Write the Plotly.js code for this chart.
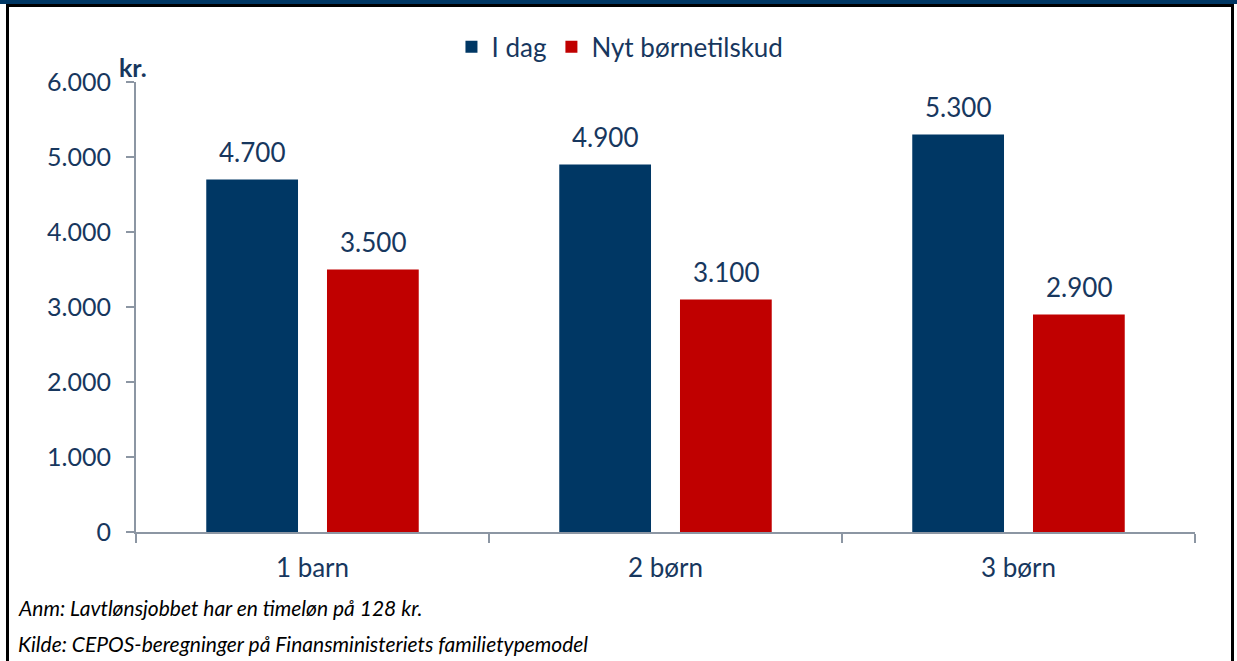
<!DOCTYPE html>
<html>
<head>
<meta charset="utf-8">
<script src="https://cdn.plot.ly/plotly-3.0.1.min.js"></script>
<style>
  body { margin: 0; background: #fff; }
  #wrap { position: relative; width: 1237px; height: 661px; overflow: hidden; }
  #chart { position: absolute; left: 0; top: 0; width: 1237px; height: 661px; }
  .topband { position: absolute; left: 0; top: 0; width: 1237px; height: 4px; background: #003764; }
  .bt { position: absolute; left: 6px; top: 4px; width: 1226px; height: 3px; background: #000; }
  .bl { position: absolute; left: 6px; top: 4px; width: 3px; height: 657px; background: #000; }
  .br { position: absolute; left: 1231px; top: 4px; width: 3px; height: 657px; background: #000; }
</style>
</head>
<body>
<div id="wrap">
  <div id="chart"></div>
  <div class="topband"></div>
  <div class="bt"></div>
  <div class="bl"></div>
  <div class="br"></div>
</div>
<script>
var categories = ['1 barn', '2 børn', '3 børn'];
var iDag = [4700, 4900, 5300];
var nytTilskud = [3500, 3100, 2900];
var yTicks = [0, 1000, 2000, 3000, 4000, 5000, 6000];

var txtColor = '#17375e';
var axisColor = '#8c96a3';

var data = [{
    x: categories,
    y: iDag,
    name: 'I dag',
    type: 'bar',
    marker: { color: '#003764' },
    hoverinfo: 'none'
}, {
    x: categories,
    y: nytTilskud,
    name: 'Nyt børnetilskud',
    type: 'bar',
    marker: { color: '#c00000' },
    hoverinfo: 'none'
}];

// value labels above bars (thousands separated with '.')
function fmt(v) {
    return v.toLocaleString('da-DK');
}
var labels = [];
[iDag, nytTilskud].forEach(function(series, s) {
    series.forEach(function(v, i) {
        labels.push({
            text: fmt(v),
            xref: 'x', yref: 'y',
            x: categories[i], y: v,
            xshift: s === 0 ? -60.5 : 60.5,
            yshift: 10,
            xanchor: 'center', yanchor: 'bottom',
            showarrow: false,
            font: { family: 'Lato', size: 26, color: txtColor }
        });
    });
});

var layout = {
    width: 1237,
    height: 661,
    separators: ',.',
    paper_bgcolor: 'rgba(0,0,0,0)',
    plot_bgcolor: 'rgba(0,0,0,0)',
    font: { family: 'Lato', size: 26, color: txtColor },
    margin: { t: 82, b: 129, l: 136, r: 42 },
    barmode: 'group',
    bargap: 0.316,
    bargroupgap: 0.24,
    showlegend: true,
    legend: {
        orientation: 'h',
        x: 0.457, xanchor: 'center',
        y: 1.078, yanchor: 'middle',
        font: { family: 'Lato', size: 26, color: txtColor },
        itemwidth: 30,
        tracegroupgap: 0
    },
    xaxis: {
        showline: true,
        linecolor: axisColor,
        linewidth: 2,
        ticks: 'outside',
        tickson: 'boundaries',
        ticklen: 9,
        tickcolor: axisColor,
        tickwidth: 2,
        showgrid: false,
        ticklabelstandoff: 12,
        tickfont: { family: 'Lato', size: 26, color: txtColor }
    },
    yaxis: {
        range: [0, 6000],
        tickvals: yTicks,
        tickformat: ',d',
        showline: true,
        linecolor: axisColor,
        linewidth: 2,
        ticks: 'outside',
        ticklen: 8,
        tickcolor: axisColor,
        tickwidth: 2,
        showgrid: false,
        zeroline: false,
        ticklabelstandoff: 10,
        tickfont: { family: 'Lato', size: 25, color: txtColor }
    },
    annotations: labels.concat([{
        text: '<b>kr.</b>',
        xref: 'paper', yref: 'paper',
        x: -0.003, y: 1.033,
        xanchor: 'center', yanchor: 'middle',
        showarrow: false,
        font: { family: 'Lato', size: 25, color: txtColor }
    }, {
        text: '<i>Anm: Lavtlønsjobbet har en timeløn på 128 kr.</i>',
        xref: 'paper', yref: 'paper',
        x: -0.1133, y: -0.1667,
        xanchor: 'left', yanchor: 'middle',
        showarrow: false,
        font: { family: 'Lato', size: 21, color: '#000' }
    }, {
        text: '<i>Kilde: CEPOS-beregninger på Finansministeriets familietypemodel</i>',
        xref: 'paper', yref: 'paper',
        x: -0.1133, y: -0.2467,
        xanchor: 'left', yanchor: 'middle',
        showarrow: false,
        font: { family: 'Lato', size: 21, color: '#000' }
    }])
};

Plotly.newPlot('chart', data, layout, { displayModeBar: false, staticPlot: true });
</script>
</body>
</html>
